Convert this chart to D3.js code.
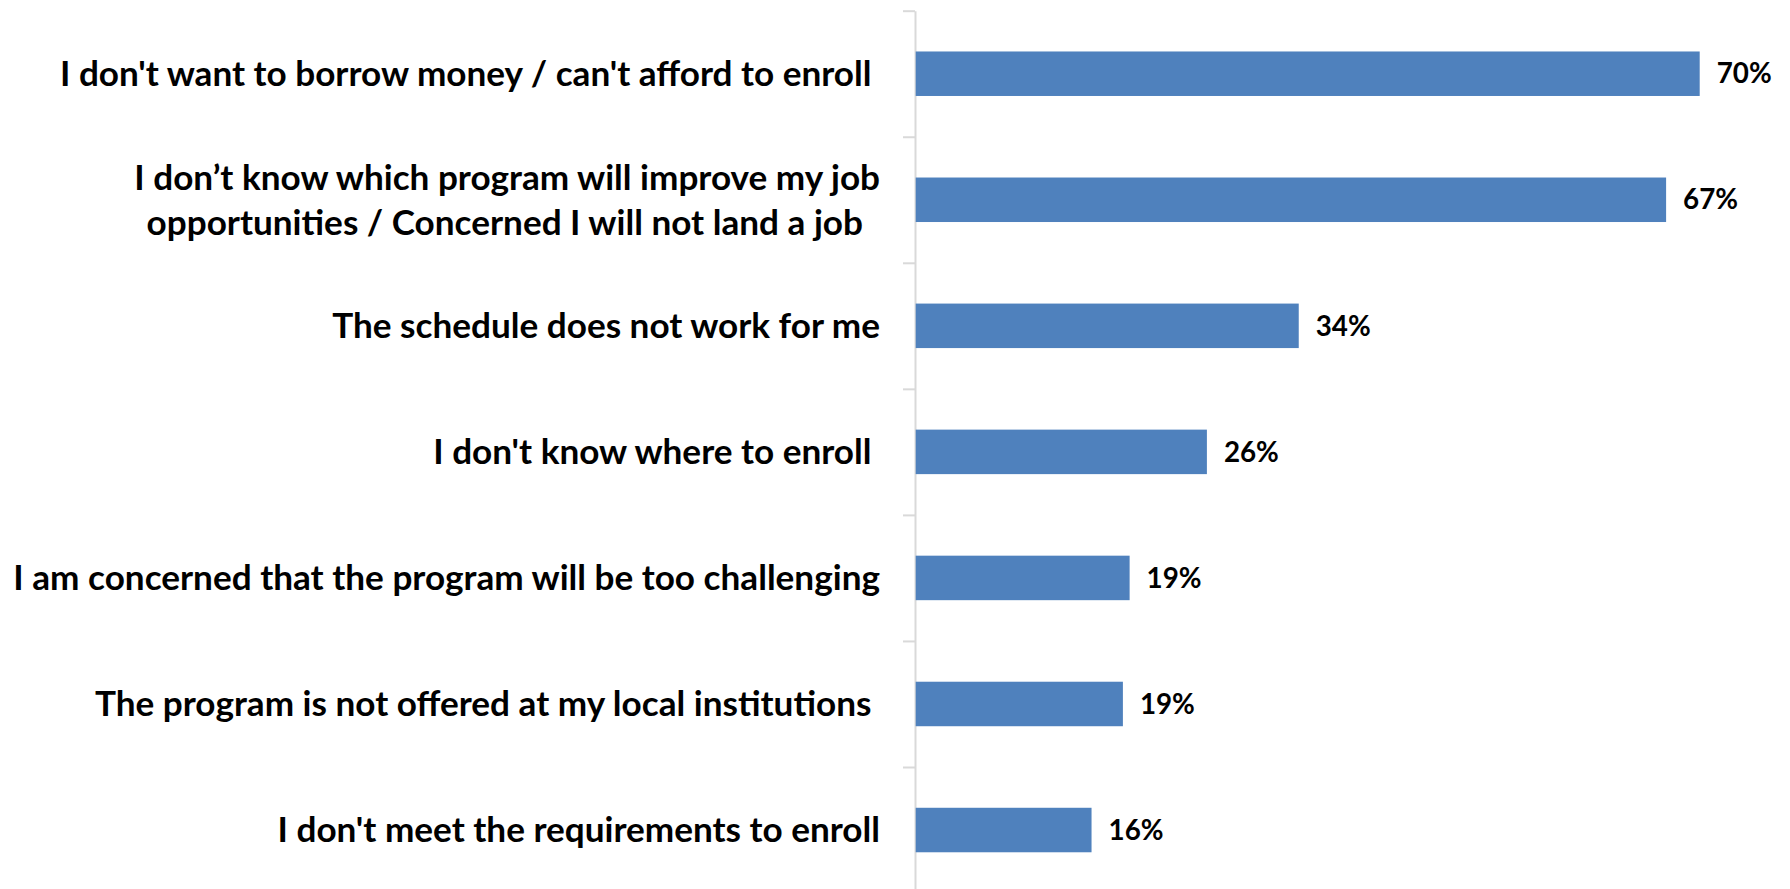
<!DOCTYPE html>
<html>
<head>
<meta charset="utf-8">
<script src="https://cdn.jsdelivr.net/npm/d3@7"></script>
<style>
  html, body { margin: 0; padding: 0; background: #fff; }
  svg { display: block; }
  text { white-space: pre; }
</style>
</head>
<body>
<svg id="chart" width="1790" height="889"></svg>
<script>
// ---- data ----
const categories = [
  ["I don't want to borrow money / can't afford to enroll "],
  ["I don\u2019t know which program will improve my job", "opportunities / Concerned I will not land a job  "],
  ["The schedule does not work for me"],
  ["I don't know where to enroll "],
  ["I am concerned that the program will be too challenging"],
  ["The program is not offered at my local institutions "],
  ["I don't meet the requirements to enroll"]
];
const values = [70, 67, 34.2, 26, 19.1, 18.5, 15.7];
const valueLabels = ["70%", "67%", "34%", "26%", "19%", "19%", "16%"];

// ---- layout ----
const axisX = 915;
const plotTop = 10.7, step = 126.05;
const n = categories.length;
const fontFamily = "Lato, 'Open Sans', sans-serif";

const svg = d3.select("#chart");

const y = d3.scaleBand()
  .domain(d3.range(n))
  .range([plotTop, plotTop + n * step])
  .paddingInner(0).paddingOuter(0);

const x = d3.scaleLinear().domain([0, 70]).range([axisX + 0.7, 1699.7]);

const barH = 44.5;

// fit label font size to the reference width of the longest label
const probe = svg.append("text")
  .attr("font-family", fontFamily).attr("font-weight", "bold")
  .attr("font-size", 100)
  .text("I am concerned that the program will be too challenging");
const probeW = probe.node().getComputedTextLength();
probe.remove();
const catSize = 100 * 867 / probeW;
const valProbe = svg.append("text")
  .attr("font-family", fontFamily).attr("font-weight", "bold")
  .attr("font-size", 100).text("70%");
const valW = valProbe.node().getComputedTextLength();
valProbe.remove();
const valSize = 100 * 55 / valW;

// axis with ticks between categories
const yB = d3.scaleLinear().domain([0, n]).range([plotTop, plotTop + n * step]);
const axisG = svg.append("g")
  .attr("transform", `translate(${axisX},0)`)
  .call(d3.axisLeft(yB).tickValues(d3.range(n + 1)).tickSize(12).tickSizeOuter(0).tickFormat(""));
axisG.select(".domain").attr("stroke", "#d9d9d9").attr("stroke-width", 2);
axisG.selectAll(".tick line").attr("stroke", "#d9d9d9").attr("stroke-width", 2);

// bars
svg.append("g").selectAll("rect")
  .data(values)
  .join("rect")
  .attr("x", x(0))
  .attr("y", (d, i) => y(i) + y.bandwidth() / 2 - barH / 2)
  .attr("width", d => x(d) - x(0))
  .attr("height", barH)
  .attr("fill", "#4f81bd");

// value labels
svg.append("g").selectAll("text")
  .data(values)
  .join("text")
  .attr("x", d => x(d) + 17)
  .attr("y", (d, i) => y(i) + y.bandwidth() / 2)
  .attr("dy", "0.35em")
  .attr("font-family", fontFamily)
  .attr("font-weight", "bold")
  .attr("font-size", valSize)
  .attr("fill", "#000")
  .text((d, i) => valueLabels[i]);

// category labels
const lineH = 45;
const catG = svg.append("g");
categories.forEach((lines, i) => {
  const cy = y(i) + y.bandwidth() / 2;
  const t = catG.append("text")
    .attr("x", 880)
    .attr("text-anchor", "end")
    .attr("font-family", fontFamily)
    .attr("font-weight", "bold")
    .attr("font-size", catSize)
    .attr("fill", "#000");
  lines.forEach((ln, j) => {
    t.append("tspan")
      .attr("x", 880)
      .attr("y", cy + (j - (lines.length - 1) / 2) * lineH)
      .attr("dy", "0.35em")
      .text(ln);
  });
});
</script>
</body>
</html>
